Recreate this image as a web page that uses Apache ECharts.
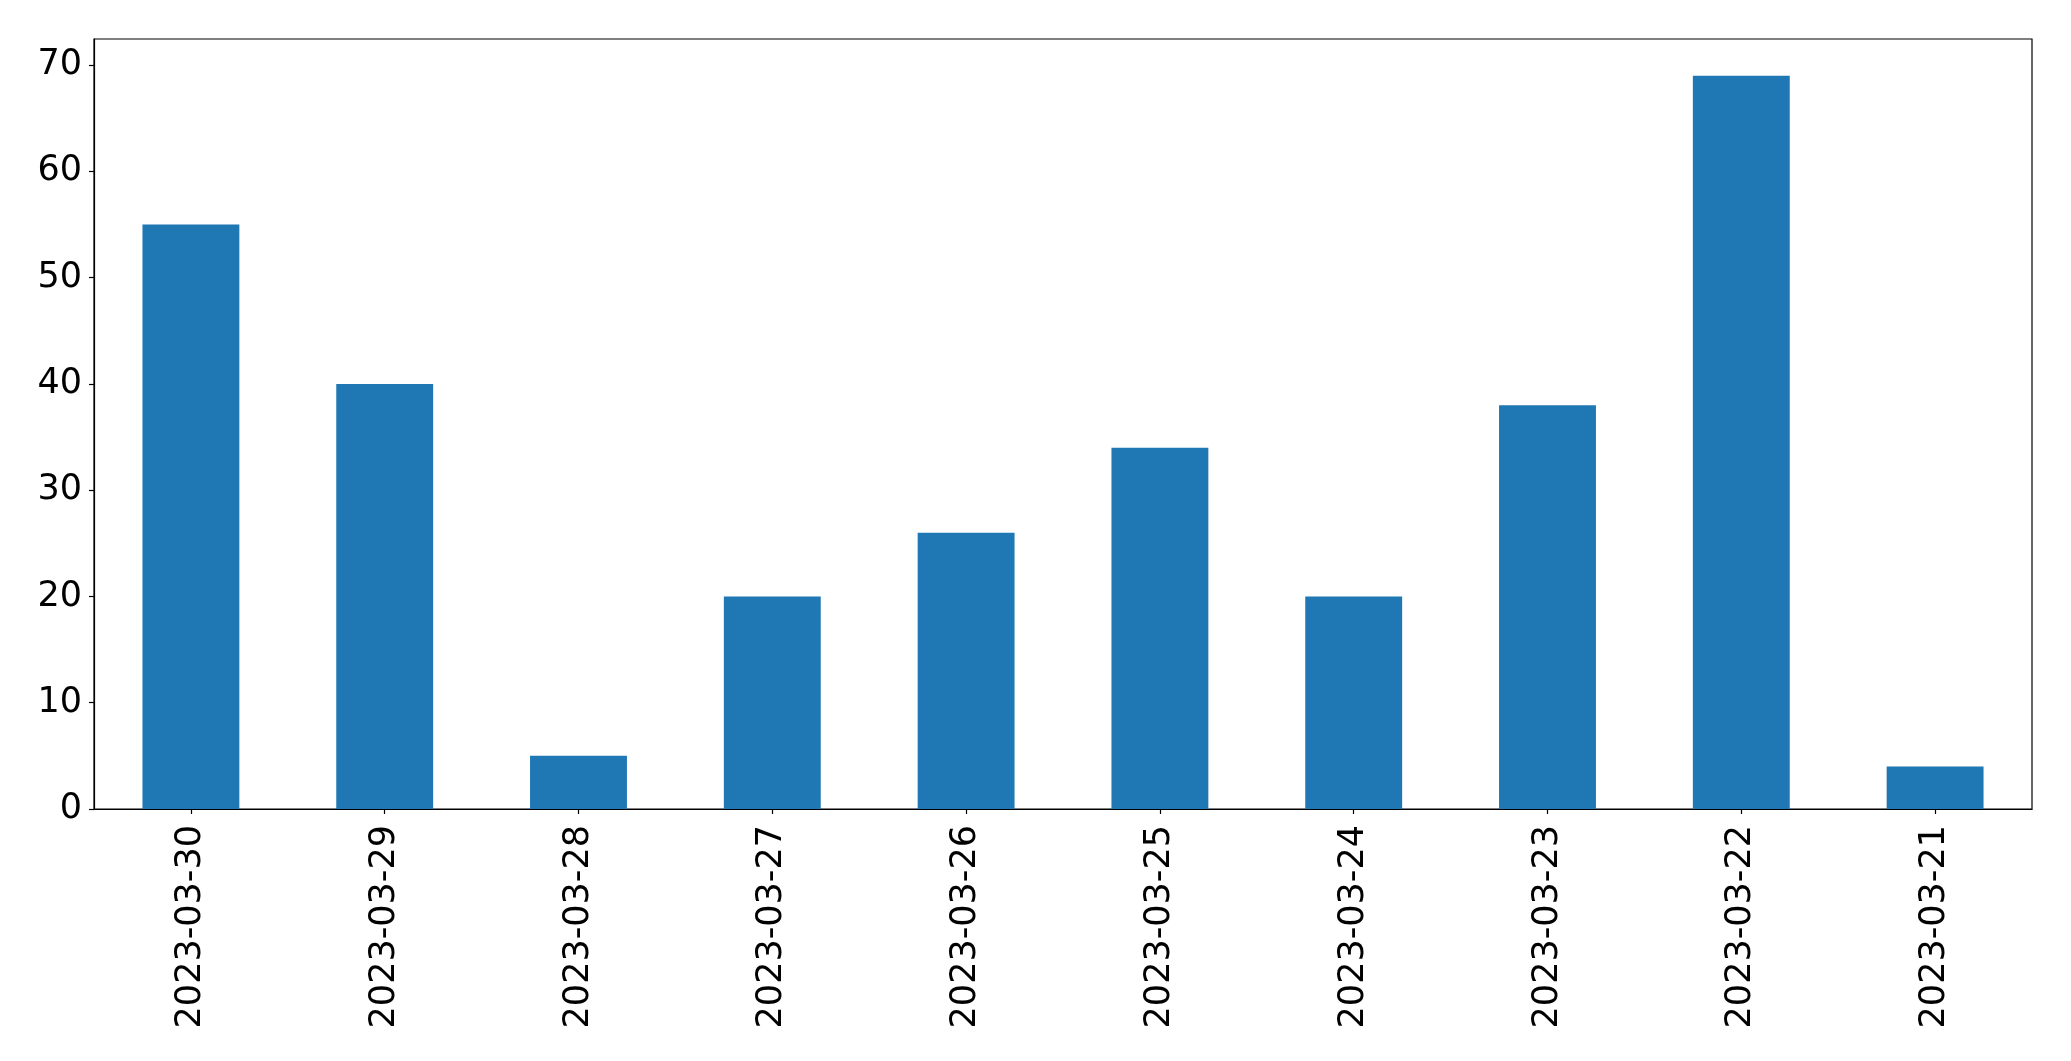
<!DOCTYPE html>
<html>
<head>
<meta charset="utf-8">
<script src="https://cdn.jsdelivr.net/npm/echarts@6/dist/echarts.min.js"></script>
<style>html,body{margin:0;padding:0;background:#fff}#c{width:2071px;height:1061px}</style>
</head>
<body>
<div id="c"></div>
<script>
const categories = ['2023-03-30','2023-03-29','2023-03-28','2023-03-27','2023-03-26','2023-03-25','2023-03-24','2023-03-23','2023-03-22','2023-03-21'];
const values = [55, 40, 5, 20, 26, 34, 20, 38, 69, 4];
const yTicks = [0, 10, 20, 30, 40, 50, 60, 70];

const chart = echarts.init(document.getElementById('c'), null, {renderer: 'canvas'});
const font = 'DejaVu Sans';
chart.setOption({
  animation: false,
  grid: {left: 94, right: 39, top: 39, bottom: 252, show: true, borderColor: '#000', borderWidth: 1.2, backgroundColor: 'transparent'},
  xAxis: {
    type: 'category',
    data: categories,
    axisLine: {show: true, lineStyle: {color: '#000', width: 1.2}},
    axisTick: {show: true, alignWithLabel: true, length: 5, lineStyle: {color: '#000', width: 1.2}},
    axisLabel: {rotate: 90, margin: 16, fontFamily: font, fontSize: 35, color: '#000', interval: 0}
  },
  yAxis: {
    type: 'value',
    min: 0,
    max: 72.45,
    interval: 10,
    splitLine: {show: false},
    axisLine: {show: true, lineStyle: {color: '#000', width: 1.2}},
    axisTick: {show: true, length: 5, lineStyle: {color: '#000', width: 1.2}, customValues: yTicks},
    axisLabel: {margin: 12, fontFamily: font, fontSize: 35, color: '#000', customValues: yTicks}
  },
  series: [{
    type: 'bar',
    data: values,
    barWidth: '50%',
    itemStyle: {color: '#1f77b4'}
  }]
});
</script>
</body>
</html>
